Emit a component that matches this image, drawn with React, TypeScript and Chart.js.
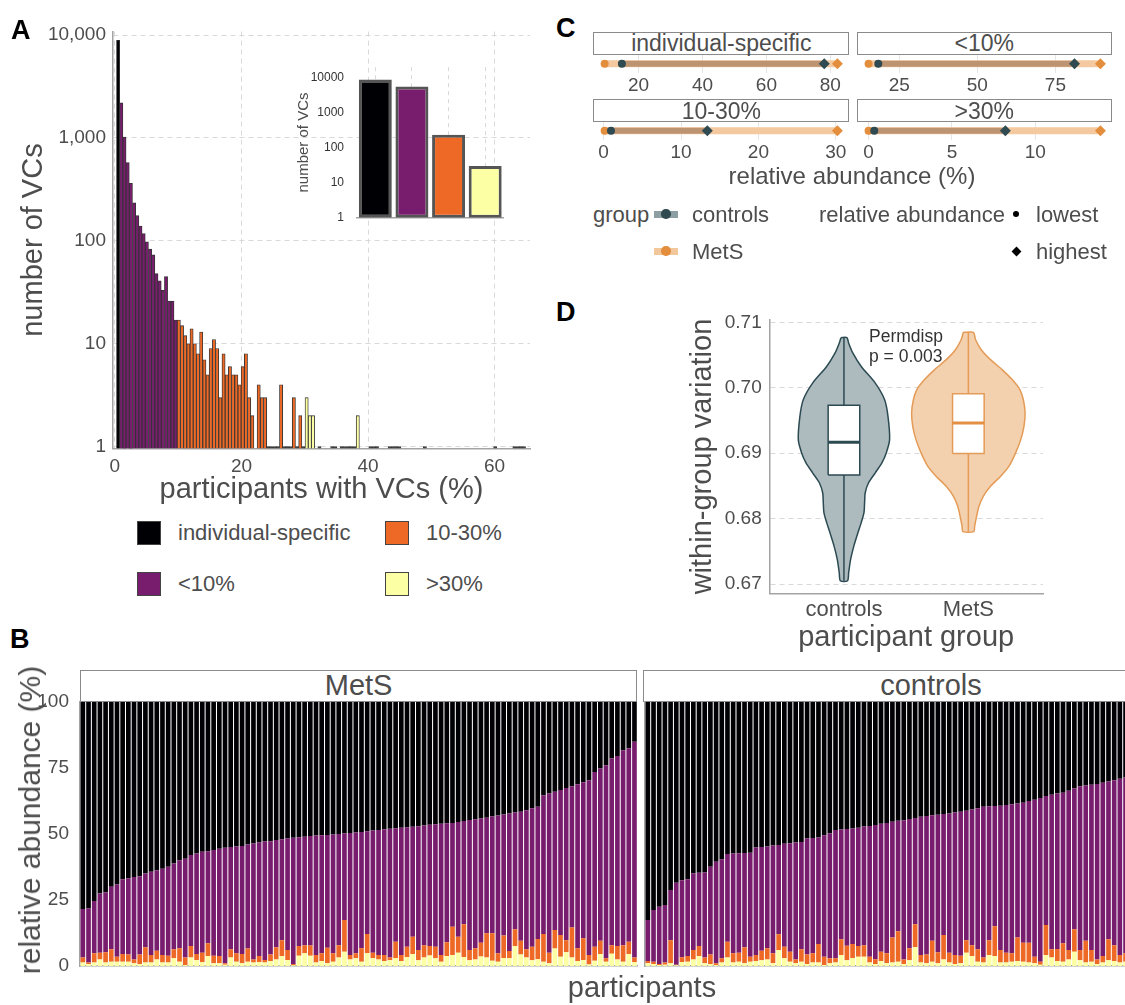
import React, { useEffect, useRef } from "react";
import { Chart, registerables } from "chart.js";

Chart.register(...registerables);

const FONT = "'Liberation Sans', Arial, Helvetica, sans-serif";
const TXT = "#4d4d4d";
Chart.defaults.font.family = FONT;
Chart.defaults.color = TXT;

const INF_BLACK = "#000004";
const INF_PURPLE = "#781C6D";
const INF_ORANGE = "#ED6925";
const INF_YELLOW = "#FCFFA4";

// ---------------- Panel A data ----------------
const nParticipants = 198;
// number of VCs found in exactly k participants (k = 1, 2, ...)
const histCounts = [
  8900, 2190, 1020, 575, 363, 234, 176, 139, 118, 98,
  83, 73, 48, 41, 33, 45, 26, 26, 17, 17,
  15, 12, 10, 14, 10, 8, 13, 7, 5, 9,
  11, 9, 3, 8, 5, 6, 5, 5, 4, 6,
  8, 3, 2, 0, 4, 3, 3, 1, 1, 1,
  1, 4, 1, 1, 1, 3, 1, 2, 1, 3,
  2, 2, 0, 1, 0, 0, 0, 1, 1, 0,
  1, 1, 1, 1, 1, 2, 0, 0, 0, 1,
  1, 1, 0, 0, 0, 1, 1, 1, 1, 0,
  0, 0, 0, 0, 0, 0, 1, 0, 0, 0,
  0, 0, 0, 0, 0, 0, 0, 0, 0, 0,
  0, 0, 0, 0, 0, 0, 0, 0, 1, 0,
  0, 0, 0, 0, 1, 1, 1, 1,
];
const histXTicks = [0, 20, 40, 60];
const histYTicks = [1, 10, 100, 1000, 10000];
const prevalenceGroups = ["individual-specific", "<10%", "10-30%", ">30%"];
const insetCounts = [8900, 5600, 235, 30];
const insetYTicks = [1, 10, 100, 1000, 10000];

// ---------------- Panel B data (cumulative tops, %) ----------------
const metsPurpleTop = [
  21.6, 21.9, 24.6, 27.5, 27.9, 30.0, 30.9, 32.9, 33.2, 33.7,
  34.0, 35.0, 35.7, 36.3, 36.8, 37.6, 38.8, 40.1, 40.6, 42.0,
  42.6, 43.3, 43.5, 43.9, 44.4, 44.8, 45.1, 45.3, 45.5, 46.0,
  46.4, 46.8, 47.2, 47.3, 47.7, 48.0, 48.3, 48.6, 48.8, 49.0,
  49.2, 49.4, 49.5, 49.6, 49.8, 50.0, 50.2, 50.4, 50.6, 50.8,
  51.0, 51.3, 51.5, 51.8, 52.0, 52.2, 52.4, 52.6, 52.7, 52.9,
  53.2, 53.5, 53.7, 53.9, 54.1, 54.2, 54.5, 54.9, 55.3, 55.6,
  55.9, 56.2, 56.6, 57.0, 57.4, 57.8, 58.1, 58.4, 59.0, 59.8,
  60.3, 64.7, 65.3, 66.0, 66.7, 67.4, 68.1, 68.8, 69.6, 70.4,
  73.5, 74.8, 76.0, 78.6, 79.5, 81.7, 82.5, 84.9,
];
const metsOrangeTop = [
  3.2, 1.3, 4.8, 5.0, 5.2, 6.3, 3.5, 4.5, 4.4, 2.5,
  4.4, 7.1, 4.2, 5.8, 4.2, 3.9, 6.3, 6.7, 3.2, 7.6,
  4.5, 5.0, 8.6, 3.9, 3.8, 1.0, 6.3, 4.8, 4.5, 6.6,
  2.5, 3.8, 2.3, 4.4, 7.1, 9.8, 6.1, 0.8, 7.6, 7.9,
  7.8, 4.2, 4.8, 6.9, 4.8, 7.9, 17.4, 4.2, 4.8, 6.7,
  12.1, 5.0, 4.2, 4.2, 3.2, 9.2, 4.2, 7.3, 11.1, 6.1,
  7.9, 7.6, 7.3, 4.2, 9.0, 14.9, 11.1, 15.8, 6.1, 6.7,
  8.8, 12.4, 12.4, 4.8, 11.6, 5.7, 13.9, 9.6, 6.3, 7.3,
  10.2, 12.1, 5.0, 13.6, 11.7, 9.8, 14.6, 6.7, 10.5, 4.2,
  7.3, 9.6, 2.9, 7.9, 7.6, 7.9, 9.2, 3.2,
];
const metsYellowTop = [
  1.3, 0.8, 1.3, 2.5, 1.3, 1.6, 1.6, 1.6, 1.6, 1.0,
  0.8, 1.3, 1.3, 2.5, 1.3, 1.3, 2.9, 1.6, 0.4, 3.2,
  2.3, 1.4, 3.8, 1.0, 1.0, 0.5, 3.2, 1.6, 1.0, 1.6,
  1.3, 1.5, 1.3, 1.9, 2.5, 3.8, 2.3, 0.3, 3.9, 4.8,
  3.9, 1.3, 1.9, 1.0, 1.6, 3.2, 5.4, 2.5, 2.9, 1.6,
  4.8, 2.9, 2.5, 1.9, 2.2, 3.0, 1.9, 3.4, 4.5, 2.2,
  3.2, 4.0, 2.9, 1.6, 3.8, 4.2, 5.0, 3.4, 2.2, 2.5,
  3.6, 3.2, 2.0, 1.6, 3.0, 2.9, 7.6, 4.4, 3.2, 2.2,
  2.6, 1.6, 1.0, 6.6, 3.5, 5.2, 3.2, 1.9, 2.3, 0.6,
  2.0, 4.5, 1.6, 4.6, 2.5, 1.6, 4.5, 1.4,
];
const ctrlPurpleTop = [
  17.4, 21.2, 22.4, 23.1, 28.8, 31.5, 32.5, 32.9, 35.1, 35.3,
  35.4, 37.6, 39.5, 40.4, 42.4, 42.6, 42.7, 42.8, 42.9, 44.9,
  45.1, 45.3, 45.6, 45.8, 46.3, 46.5, 46.8, 47.0, 48.3, 48.5,
  48.7, 49.5, 50.3, 51.5, 51.7, 51.9, 52.1, 52.4, 52.8, 53.0,
  53.4, 53.9, 54.2, 54.6, 55.0, 55.2, 55.7, 56.1, 56.5, 56.8,
  57.1, 57.3, 57.6, 57.8, 58.1, 58.4, 58.8, 59.3, 59.8, 60.3,
  60.5, 60.6, 60.7, 61.0, 61.3, 61.6, 61.8, 62.5, 63.0, 63.6,
  64.4, 64.9, 65.3, 65.6, 66.4, 67.2, 68.1, 68.4, 68.7, 68.9,
  69.4, 69.9, 70.4, 70.9, 71.4,
];
const ctrlOrangeTop = [
  1.9, 1.6, 0.8, 1.3, 9.8, 0.5, 3.3, 3.8, 6.1, 7.6,
  3.2, 4.4, 1.0, 2.9, 9.2, 4.8, 5.0, 7.1, 3.5, 4.2,
  5.8, 6.7, 4.8, 12.0, 7.3, 5.4, 2.5, 6.3, 4.4, 4.8,
  8.3, 3.5, 2.9, 2.9, 10.1, 7.7, 8.3, 7.6, 7.9, 3.5,
  2.6, 5.4, 4.8, 10.8, 13.2, 2.5, 6.7, 15.8, 4.2, 4.4,
  9.6, 5.2, 11.7, 5.0, 4.2, 3.9, 9.8, 7.9, 6.3, 3.2,
  9.8, 15.1, 6.1, 5.0, 4.8, 10.8, 8.8, 8.8, 3.5, 1.6,
  15.5, 6.3, 6.4, 8.6, 6.1, 13.9, 6.1, 9.6, 6.1, 2.5,
  3.8, 10.1, 7.9, 4.2, 4.8,
];
const ctrlYellowTop = [
  1.0, 0.8, 0.4, 0.5, 1.0, 0.3, 1.5, 1.6, 2.5, 3.8,
  1.0, 0.8, 0.4, 1.3, 3.2, 1.3, 1.6, 1.0, 1.6, 1.9,
  2.2, 2.5, 1.0, 6.1, 2.9, 1.6, 1.0, 1.6, 0.8, 1.3,
  1.3, 0.4, 1.0, 1.3, 4.2, 2.2, 3.0, 3.5, 3.5, 1.3,
  0.8, 1.9, 1.0, 1.3, 1.6, 0.8, 2.2, 7.1, 1.3, 1.0,
  1.6, 1.0, 2.5, 1.3, 0.8, 1.0, 5.0, 3.8, 1.6, 1.3,
  4.2, 3.8, 1.3, 1.3, 1.6, 1.9, 1.6, 1.3, 1.0, 0.5,
  4.2, 3.2, 1.9, 1.6, 2.5, 5.4, 2.2, 1.3, 1.6, 0.8,
  1.3, 2.2, 1.9, 1.3, 1.6,
];
const abundYTicks = [0, 25, 50, 75, 100];

// ---------------- Panel C data (relative abundance %, lowest / highest) ----------------
const abundFacets = ["individual-specific", "<10%", "10-30%", ">30%"];
const abundMetsMin = [9.4, 15.2, 0.13, 0.0];
const abundMetsMax = [82.2, 89.4, 30.2, 13.9];
const abundCtrlMin = [14.8, 18.3, 0.95, 0.34];
const abundCtrlMax = [78.1, 81.1, 13.4, 8.2];
const abundTicks = [
  [20, 40, 60, 80],
  [25, 50, 75],
  [0, 10, 20, 30],
  [0, 5, 10],
];

// ---------------- Panel D data ----------------
const dGroups = ["controls", "MetS"];
const ctrlViolinY = [0.70766, 0.7068, 0.70528, 0.70325, 0.70071, 0.69817, 0.69564, 0.69208, 0.69005, 0.68853, 0.68701, 0.68549, 0.68396, 0.68244, 0.68092, 0.6794, 0.67788, 0.67585, 0.67382, 0.67179, 0.67052];
const ctrlViolinW = [0.024, 0.038, 0.072, 0.139, 0.252, 0.327, 0.354, 0.367, 0.34, 0.305, 0.252, 0.198, 0.171, 0.166, 0.161, 0.139, 0.113, 0.08, 0.054, 0.038, 0.029];
const metsViolinY = [0.70847, 0.7073, 0.70578, 0.70426, 0.70274, 0.70121, 0.69969, 0.69817, 0.69614, 0.69411, 0.69208, 0.69005, 0.68803, 0.6865, 0.68498, 0.68346, 0.68194, 0.68042, 0.67889, 0.67803];
const metsViolinW = [0.04, 0.059, 0.105, 0.18, 0.273, 0.354, 0.415, 0.442, 0.456, 0.447, 0.421, 0.38, 0.327, 0.26, 0.18, 0.121, 0.086, 0.067, 0.051, 0.043];
const dMin = [0.67052, 0.67803];
const dQ1 = [0.68666, 0.68995];
const dMedian = [0.69168, 0.69462];
const dQ3 = [0.69733, 0.69908];
const dMax = [0.70766, 0.70847];

// ---------------- helpers ----------------
const fixW = (w: number) => (s: any) => { s.width = w; };
const fixH = (h: number) => (s: any) => { s.height = h; };
const baseOpts = () => ({
  responsive: false,
  maintainAspectRatio: false,
  animation: false,
  devicePixelRatio: 1,
  events: [],
  plugins: { legend: { display: false }, tooltip: { enabled: false } },
});

const polyFillPlugin = {
  id: "polyFill",
  beforeDatasetDraw(chart: any, args: any) {
    const ds: any = chart.data.datasets[args.index];
    if (!ds.polyFill) return;
    const meta = args.meta;
    const pts = meta.data || [];
    if (!pts.length) return;
    const ctx = chart.ctx;
    ctx.save();
    ctx.beginPath();
    const line: any = meta.dataset;
    if (line && typeof line.path === "function") {
      line.path(ctx);
    } else {
      pts.forEach((p: any, i: number) => (i ? ctx.lineTo(p.x, p.y) : ctx.moveTo(p.x, p.y)));
    }
    ctx.closePath();
    ctx.fillStyle = ds.polyFill;
    ctx.fill();
    ctx.restore();
  },
};

function ChartBox({ x, y, w, h, make }: any) {
  const ref = useRef<HTMLCanvasElement>(null);
  useEffect(() => {
    const chart = new Chart(ref.current as HTMLCanvasElement, make());
    return () => chart.destroy();
  }, []);
  return (
    <canvas
      ref={ref}
      width={w}
      height={h}
      style={{ position: "absolute", left: x, top: y, width: w, height: h }}
    />
  );
}

// text with baseline at y
function Txt({ x, y, size, children, anchor = "start", weight = 400, color = TXT }: any) {
  const top = y - 0.8465 * size;
  const tx = anchor === "middle" ? "-50%" : anchor === "end" ? "-100%" : "0";
  return (
    <div
      style={{
        position: "absolute",
        left: x,
        top,
        fontSize: size,
        lineHeight: `${size}px`,
        height: size,
        fontFamily: FONT,
        fontWeight: weight,
        color,
        whiteSpace: "nowrap",
        transform: `translateX(${tx})`,
      }}
    >
      {children}
    </div>
  );
}

// vertical text (reads bottom-to-top), centred at (cx, cy)
function VTxt({ cx, cy, size, children, color = TXT }: any) {
  return (
    <div
      style={{
        position: "absolute",
        left: cx,
        top: cy,
        fontSize: size,
        lineHeight: `${size}px`,
        fontFamily: FONT,
        color,
        whiteSpace: "nowrap",
        transform: "translate(-50%, -50%) rotate(-90deg)",
      }}
    >
      {children}
    </div>
  );
}

function Box({ x, y, w, h, style }: any) {
  return <div style={{ position: "absolute", left: x, top: y, width: w, height: h, boxSizing: "border-box", ...style }} />;
}

const GRID = "#d9d9d9";
const AXIS = "#a3a3a3";

function histColor(k: number) {
  const pct = (k * 100) / nParticipants;
  if (k === 1) return INF_BLACK;
  if (pct < 10) return INF_PURPLE;
  if (pct < 30) return INF_ORANGE;
  return INF_YELLOW;
}

// ---------------- Panel A configs ----------------
function makeHist() {
  return {
    type: "bar",
    data: {
      datasets: [
        {
          data: histCounts.map((c, i) => ({ x: ((i + 1) * 100) / nParticipants, y: c > 0 ? c : null })),
          backgroundColor: histCounts.map((c, i) => (c === 1 ? "#4a4a4a" : histColor(i + 1))),
          borderColor: "#333333",
          borderWidth: 0.9,
          barPercentage: 1,
          categoryPercentage: 1,
        },
      ],
    },
    options: {
      ...baseOpts(),
      layout: { padding: { left: 0, right: 10, top: 31.6, bottom: 0 }, autoPadding: false },
      scales: {
        x: {
          type: "linear",
          offset: false,
          min: -0.3,
          max: 65.6,
          afterFit: fixH(61.5),
          afterBuildTicks: (s: any) => { s.ticks = histXTicks.map((v) => ({ value: v })); },
          ticks: { padding: 7, font: { size: 19 }, color: TXT, maxRotation: 0 },
          grid: { offset: false, color: GRID, drawTicks: false, lineWidth: 1 },
          border: { color: AXIS, width: 1.5, dash: [5, 4] },
          title: { display: true, text: "participants with VCs (%)", font: { size: 29, lineHeight: 1 }, color: TXT, padding: { top: 0, bottom: 6 } },
        },
        y: {
          type: "logarithmic",
          min: 0.96,
          max: 10800,
          afterFit: fixW(113),
          afterBuildTicks: (s: any) => { s.ticks = histYTicks.map((v) => ({ value: v })); },
          ticks: { padding: 7, font: { size: 19 }, color: TXT, callback: (v: any) => Number(v).toLocaleString("en-US") },
          grid: { color: GRID, drawTicks: false, lineWidth: 1 },
          border: { color: AXIS, width: 1.5, dash: [5, 4] },
          title: { display: true, text: "number of VCs", font: { size: 29, lineHeight: 1 }, color: TXT, padding: { top: 19.7, bottom: 0 } },
        },
      },
    },
  };
}

function makeInset() {
  return {
    type: "bar",
    data: {
      labels: prevalenceGroups,
      datasets: [
        {
          data: insetCounts,
          backgroundColor: [INF_BLACK, INF_PURPLE, INF_ORANGE, INF_YELLOW],
          borderColor: "#555555",
          borderWidth: 3,
          borderSkipped: false,
          barPercentage: 0.9,
          categoryPercentage: 1,
        },
      ],
    },
    options: {
      ...baseOpts(),
      layout: { padding: { left: 0, right: 16.5, top: 10.1, bottom: 0 }, autoPadding: false },
      scales: {
        x: {
          afterFit: fixH(9.3),
          ticks: { display: false },
          grid: { offset: false, color: GRID, drawTicks: false },
          border: { color: AXIS, width: 1.5, dash: [4, 4] },
        },
        y: {
          type: "logarithmic",
          min: 1,
          max: 20000,
          afterFit: fixW(67),
          afterBuildTicks: (s: any) => { s.ticks = insetYTicks.map((v) => ({ value: v })); },
          ticks: { padding: 5, font: { size: 12 }, color: "#333333", callback: (v: any) => String(v) },
          grid: { display: false },
          border: { display: false },
          title: { display: true, text: "number of VCs", font: { size: 15, lineHeight: 1 }, color: TXT, padding: { top: 6.5, bottom: 0 } },
        },
      },
    },
  };
}

// ---------------- Panel B configs ----------------
function segs(purpleTop: number[], orangeTop: number[], yellowTop: number[]) {
  return {
    yellow: yellowTop.map((v) => v),
    orange: orangeTop.map((v, i) => v - yellowTop[i]),
    purple: purpleTop.map((v, i) => v - orangeTop[i]),
    black: purpleTop.map((v) => 100 - v),
  };
}

function makeStack(group: string, purpleTop: number[], orangeTop: number[], yellowTop: number[], withAxis: boolean, pad: any) {
  const s = segs(purpleTop, orangeTop, yellowTop);
  const labels = purpleTop.map((_, i) => `${group} ${i + 1}`);
  return {
    type: "bar",
    data: {
      labels,
      datasets: [
        { label: prevalenceGroups[3], data: s.yellow, backgroundColor: INF_YELLOW },
        { label: prevalenceGroups[2], data: s.orange, backgroundColor: INF_ORANGE },
        { label: prevalenceGroups[1], data: s.purple, backgroundColor: INF_PURPLE },
        { label: prevalenceGroups[0], data: s.black, backgroundColor: INF_BLACK },
      ],
    },
    options: {
      ...baseOpts(),
      datasets: { bar: { barPercentage: 0.82, categoryPercentage: 1, borderWidth: 0 } },
      layout: { padding: pad, autoPadding: false },
      scales: {
        x: {
          stacked: true,
          offset: true,
          afterFit: fixH(39),
          ticks: { display: false },
          grid: { display: false },
          border: { color: AXIS, width: 1.5 },
        },
        y: {
          stacked: true,
          min: 0,
          max: 100,
          afterFit: fixW(withAxis ? 80 : 0),
          afterBuildTicks: (sc: any) => { sc.ticks = abundYTicks.map((v) => ({ value: v })); },
          ticks: { display: withAxis, padding: 3, font: { size: 19 }, color: TXT },
          grid: { display: false },
          border: { color: AXIS, width: 1.5 },
        },
      },
    },
  };
}

// ---------------- Panel C configs ----------------
const MET_LINE = "#f5c9a0";
const CTRL_LINE = "#bc9472";
const MET_PT = "#e38e3d";
const CTRL_PT = "#2f4a50";

function makeRange(i: number) {
  const lo = Math.min(abundMetsMin[i], abundCtrlMin[i]);
  const hi = Math.max(abundMetsMax[i], abundCtrlMax[i]);
  const pad = (hi - lo) * 0.05;
  return {
    type: "scatter",
    data: {
      datasets: [
        { data: [{ x: abundMetsMin[i], y: 0 }, { x: abundMetsMax[i], y: 0 }], showLine: true, borderColor: MET_LINE, borderWidth: 7, pointRadius: 0, borderCapStyle: "butt", order: 4 },
        { data: [{ x: abundCtrlMin[i], y: 0 }, { x: abundCtrlMax[i], y: 0 }], showLine: true, borderColor: CTRL_LINE, borderWidth: 6, pointRadius: 0, borderCapStyle: "butt", order: 3 },
        { data: [{ x: abundMetsMin[i], y: 0 }, { x: abundMetsMax[i], y: 0 }], showLine: false, pointStyle: ["circle", "rectRot"], pointRadius: [4, 5.5], backgroundColor: MET_PT, borderColor: MET_PT, pointBorderWidth: 0, order: 2 },
        { data: [{ x: abundCtrlMin[i], y: 0 }, { x: abundCtrlMax[i], y: 0 }], showLine: false, pointStyle: ["circle", "rectRot"], pointRadius: [4, 5.5], backgroundColor: CTRL_PT, borderColor: CTRL_PT, pointBorderWidth: 0, order: 1 },
      ],
    },
    options: {
      ...baseOpts(),
      layout: { padding: { left: 10, right: 10, top: 0, bottom: 0 }, autoPadding: false },
      scales: {
        x: {
          type: "linear",
          min: lo - pad,
          max: hi + pad,
          afterFit: fixH(26.5),
          afterBuildTicks: (s: any) => { s.ticks = abundTicks[i].map((v) => ({ value: v })); },
          ticks: { padding: 1.6, font: { size: 19 }, color: TXT, maxRotation: 0 },
          grid: { color: "#e6e6e6", drawTicks: false },
          border: { display: false },
        },
        y: { min: -1, max: 1, display: false },
      },
    },
  };
}

// ---------------- Panel D config ----------------
const D_BW = 0.127;
const dColors = [
  { fill: "#aebbbe", line: "#2c4a52", med: "#2c4a52" },
  { fill: "#f3d1af", line: "#e49b57", med: "#e38f44" },
];

function violinPts(c: number, ys: number[], ws: number[]) {
  const left = ys.map((y, i) => ({ x: c - ws[i], y }));
  const right = ys.map((y, i) => ({ x: c + ws[i], y })).reverse();
  return [...left, ...right, left[0]];
}

function makeViolin() {
  const datasets: any[] = [];
  const profiles = [
    [ctrlViolinY, ctrlViolinW],
    [metsViolinY, metsViolinW],
  ];
  dGroups.forEach((g, i) => {
    const c = i + 1;
    const col = dColors[i];
    datasets.push({ label: g + " violin", data: violinPts(c, profiles[i][0], profiles[i][1]), showLine: true, tension: 0.25, borderColor: col.line, borderWidth: 1.5, pointRadius: 0, polyFill: col.fill, order: 4 });
    datasets.push({ label: g + " whisker", data: [{ x: c, y: dMin[i] }, { x: c, y: dMax[i] }], showLine: true, borderColor: col.line, borderWidth: 1.5, pointRadius: 0, order: 3 });
    datasets.push({
      label: g + " box",
      data: [
        { x: c - D_BW, y: dQ1[i] },
        { x: c + D_BW, y: dQ1[i] },
        { x: c + D_BW, y: dQ3[i] },
        { x: c - D_BW, y: dQ3[i] },
        { x: c - D_BW, y: dQ1[i] },
      ],
      showLine: true,
      tension: 0,
      borderColor: col.line,
      borderWidth: 1.5,
      pointRadius: 0,
      polyFill: "#ffffff",
      order: 2,
    });
    datasets.push({ label: g + " median", data: [{ x: c - D_BW, y: dMedian[i] }, { x: c + D_BW, y: dMedian[i] }], showLine: true, borderColor: col.med, borderWidth: 2.8, pointRadius: 0, order: 1 });
  });
  return {
    type: "scatter",
    data: { datasets },
    plugins: [polyFillPlugin],
    options: {
      ...baseOpts(),
      layout: { padding: { left: 0, right: 17, top: 19.7, bottom: 0 }, autoPadding: false },
      scales: {
        x: {
          type: "linear",
          min: 0.4,
          max: 2.6,
          afterFit: fixH(66.7),
          afterBuildTicks: (s: any) => { s.ticks = dGroups.map((_, i) => ({ value: i + 1 })); },
          ticks: { padding: -5, font: { size: 22 }, color: TXT, callback: (v: any) => dGroups[Math.round(Number(v)) - 1] },
          grid: { display: false },
          border: { color: AXIS, width: 1.5 },
          title: { display: true, text: "participant group", font: { size: 29, lineHeight: 1 }, color: TXT, padding: { top: 0, bottom: 7.5 } },
        },
        y: {
          min: 0.6686,
          max: 0.7104,
          afterFit: fixW(89.3),
          ticks: { stepSize: 0.01, includeBounds: false, padding: 7.6, font: { size: 19 }, color: TXT, callback: (v: any) => Number(v).toFixed(2) },
          grid: { color: GRID, drawTicks: false },
          border: { color: AXIS, width: 1.5, dash: [5, 4] },
          title: { display: true, text: "within-group variation", font: { size: 29, lineHeight: 1 }, color: TXT, padding: { top: 8.5, bottom: 0 } },
        },
      },
    },
  };
}

// ---------------- App ----------------
const cCols = [
  { left: 593.3, width: 256 },
  { left: 856.7, width: 255 },
];
const cRows = [
  { strip: 31.7, plot: 54.5, base: 51 },
  { strip: 99, plot: 122, base: 119 },
];

export default function App() {
  const stripStyle = { border: "1.5px solid #8a8a8a", background: "#ffffff" };
  return (
    <div style={{ position: "fixed", left: 0, top: 0, width: 1125, height: 1005, overflow: "hidden", background: "#ffffff", fontFamily: FONT }}>
      {/* Panel A */}
      <ChartBox x={0} y={0} w={540} h={510} make={makeHist} />
      <ChartBox x={290} y={55} w={230} h={175} make={makeInset} />
      <Txt x={11} y={40} size={27} weight={700} color="#000">A</Txt>
      {[
        { x: 137, y: 521, c: INF_BLACK, t: prevalenceGroups[0] },
        { x: 385, y: 521, c: INF_ORANGE, t: prevalenceGroups[2] },
        { x: 137, y: 572, c: INF_PURPLE, t: prevalenceGroups[1] },
        { x: 385, y: 572, c: INF_YELLOW, t: prevalenceGroups[3] },
      ].map((k, i) => (
        <React.Fragment key={"la" + i}>
          <Box x={k.x} y={k.y} w={24} h={24} style={{ background: k.c, border: "1px solid #444" }} />
          <Txt x={k.x + 41} y={k.y + 20} size={22}>{k.t}</Txt>
        </React.Fragment>
      ))}

      {/* Panel C */}
      <Txt x={556} y={38} size={27} weight={700} color="#000">C</Txt>
      {abundFacets.map((f, i) => {
        const col = cCols[i % 2];
        const row = cRows[Math.floor(i / 2)];
        return (
          <React.Fragment key={"cf" + i}>
            <Box x={col.left} y={row.strip} w={col.width} h={23} style={stripStyle} />
            <Txt x={col.left + col.width / 2} y={row.base} size={23} anchor="middle">{f}</Txt>
            <ChartBox x={col.left - 10} y={row.plot} w={col.width + 20} h={44} make={() => makeRange(i)} />
          </React.Fragment>
        );
      })}
      <Txt x={852} y={184} size={24} anchor="middle">relative abundance (%)</Txt>
      {/* Panel C legend */}
      <Txt x={593} y={222.5} size={22}>group</Txt>
      <Box x={654} y={210.5} w={24} h={7} style={{ background: "#8e9fa3" }} />
      <Box x={661.3} y={209.3} w={9.4} h={9.4} style={{ background: CTRL_PT, borderRadius: "50%" }} />
      <Txt x={692} y={222.5} size={22}>{dGroups[0]}</Txt>
      <Box x={654} y={247.5} w={24} h={7} style={{ background: "#f2c79c" }} />
      <Box x={661.3} y={246.3} w={9.4} h={9.4} style={{ background: MET_PT, borderRadius: "50%" }} />
      <Txt x={692} y={260} size={22}>{dGroups[1]}</Txt>
      <Txt x={819} y={222.5} size={22}>relative abundance</Txt>
      <Box x={1012.7} y={210.7} w={6.6} h={6.6} style={{ background: "#000", borderRadius: "50%" }} />
      <Txt x={1036} y={222.5} size={22}>lowest</Txt>
      <Box x={1012.5} y={247.5} w={7} h={7} style={{ background: "#000", transform: "rotate(45deg)" }} />
      <Txt x={1036} y={260} size={22}>highest</Txt>

      {/* Panel D */}
      <Txt x={556} y={322} size={27} weight={700} color="#000">D</Txt>
      <ChartBox x={680} y={300} w={380} h={360} make={makeViolin} />
      <Txt x={869} y={343} size={17.5} color="#333">Permdisp</Txt>
      <Txt x={869} y={363} size={17.5} color="#333">p = 0.003</Txt>

      {/* Panel B */}
      <Txt x={10} y={649} size={27} weight={700} color="#000">B</Txt>
      <Box x={80} y={670} w={557.3} h={32} style={stripStyle} />
      <Txt x={358.6} y={696} size={29} anchor="middle">MetS</Txt>
      <Box x={643} y={670} w={580} h={32} style={stripStyle} />
      <Txt x={931} y={696} size={29} anchor="middle">{dGroups[0]}</Txt>
      <ChartBox x={0} y={640} w={640} h={365} make={() => makeStack("MetS", metsPurpleTop, metsOrangeTop, metsYellowTop, true, { left: 0, right: 2.7, top: 62, bottom: 0 })} />
      <ChartBox x={643} y={640} w={490} h={365} make={() => makeStack("controls", ctrlPurpleTop, ctrlOrangeTop, ctrlYellowTop, false, { left: 2, right: 4.6, top: 62, bottom: 0 })} />
      <VTxt cx={30} cy={820} size={30}>relative abundance (%)</VTxt>
      <Txt x={642} y={997.5} size={29} anchor="middle">participants</Txt>
    </div>
  );
}
